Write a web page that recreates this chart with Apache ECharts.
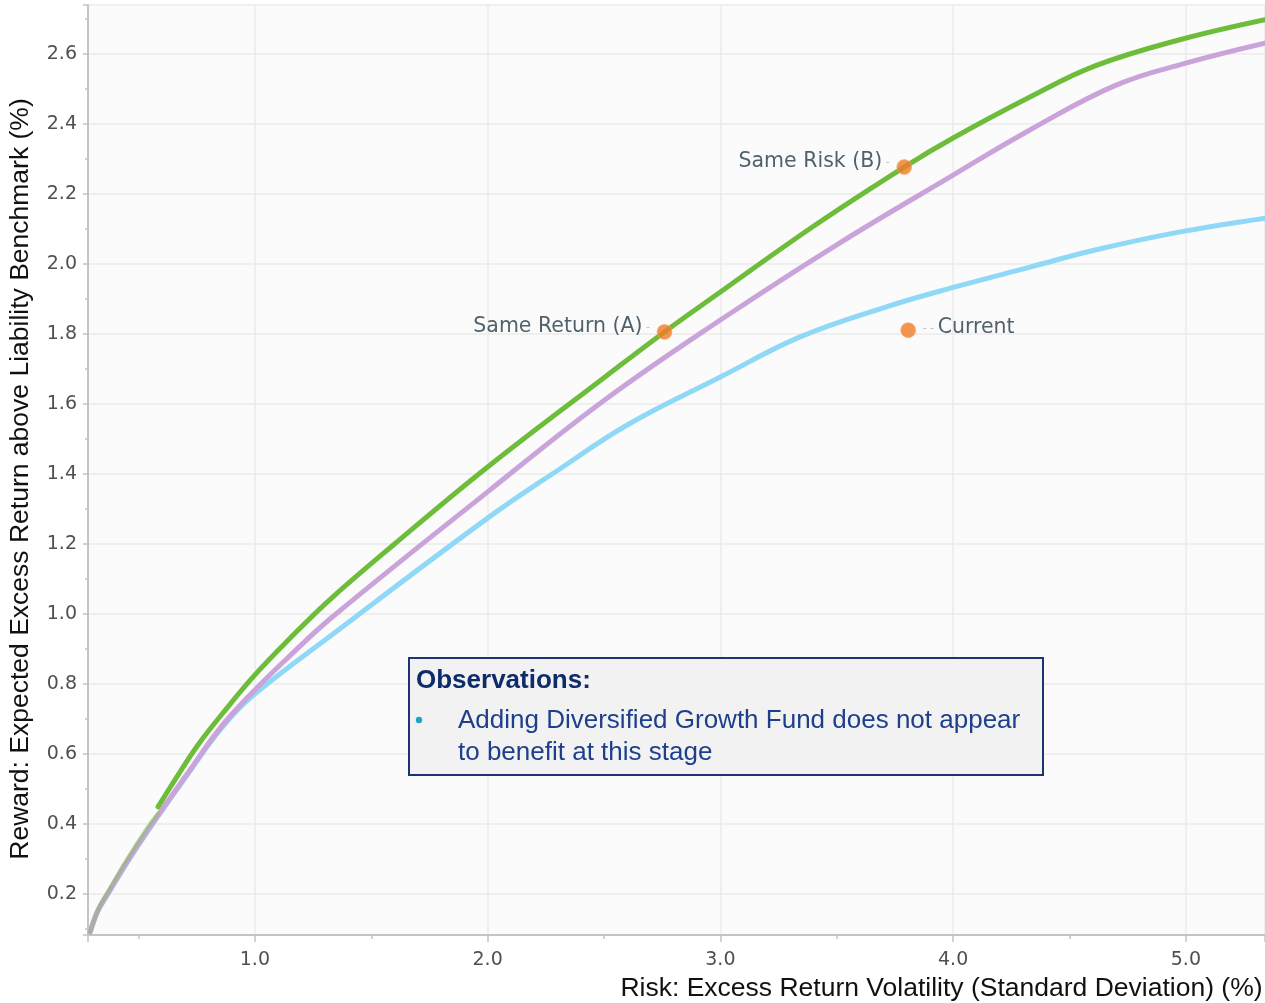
<!DOCTYPE html>
<html><head><meta charset="utf-8">
<script src="https://cdn.jsdelivr.net/npm/echarts@6/dist/echarts.min.js"></script>
<style>html,body{margin:0;padding:0;background:#fff}#c{width:1265px;height:1003px}</style>
</head><body><div id="c"></div>
<script>
// ---- data ----
const greenX = [0.584, 0.66, 0.76, 0.86, 1.0, 1.15, 1.32, 1.6, 2.0, 2.5, 2.76, 3.0, 3.4, 3.79, 4.0, 4.33, 4.61, 4.97, 5.34];
const greenY = [0.449, 0.53, 0.63, 0.715, 0.826, 0.93, 1.04, 1.2, 1.42, 1.675, 1.806, 1.92, 2.108, 2.277, 2.36, 2.477, 2.566, 2.64, 2.698];

const greenLeadX = [0.292, 0.33, 0.37, 0.455, 0.54, 0.584];
const greenLeadY = [0.092, 0.16, 0.208, 0.304, 0.392, 0.43];

const purpleX = [0.292, 0.326, 0.369, 0.455, 0.54, 0.712, 0.854, 1.0, 1.14, 1.33, 2.0, 2.5, 3.0, 3.5, 4.0, 4.33, 4.7, 5.0, 5.34];
const purpleY = [0.091, 0.154, 0.203, 0.297, 0.383, 0.546, 0.677, 0.783, 0.874, 0.99, 1.349, 1.61, 1.84, 2.055, 2.254, 2.383, 2.511, 2.574, 2.631];

const blueX = [0.292, 0.326, 0.369, 0.455, 0.54, 0.712, 0.854, 0.99, 1.33, 2.0, 2.3, 2.6, 3.0, 3.34, 3.7, 4.0, 4.33, 4.61, 4.97, 5.34];
const blueY = [0.091, 0.152, 0.2, 0.294, 0.38, 0.543, 0.672, 0.766, 0.94, 1.274, 1.41, 1.54, 1.677, 1.791, 1.875, 1.933, 1.991, 2.04, 2.091, 2.131];

const pointNames = ['Same Return (A)', 'Same Risk (B)', 'Current'];
const pointX = [2.76, 3.79, 3.807];
const pointY = [1.806, 2.277, 1.811];

const xAxisName = 'Risk: Excess Return Volatility (Standard Deviation) (%)';
const yAxisName = 'Reward: Expected Excess Return above Liability Benchmark (%)';
const noteTitle = 'Observations:';
const noteLines = ['Adding Diversified Growth Fund does not appear', 'to benefit at this stage'];

// ---- build ----
const zip = (xs, ys) => xs.map((x, i) => [x, ys[i]]);
const labelSide = { 'Same Return (A)': 'left', 'Same Risk (B)': 'left', 'Current': 'right' };

const chart = echarts.init(document.getElementById('c'), null, { renderer: 'canvas' });

const tickFont = { fontFamily: 'DejaVu Sans', fontSize: 19, color: '#505050' };
const nameFont = { fontFamily: 'Liberation Sans', fontSize: 26.5, color: '#111' };

const lineBase = (color, width, opacity) => ({
  type: 'line', smooth: 0.4, symbol: 'none', silent: true,
  lineStyle: { color: color, width: width, opacity: opacity, cap: 'round' }
});

chart.setOption({
  animation: false,
  backgroundColor: '#ffffff',
  grid: { left: 88, right: 0, top: 5, bottom: 68, containLabel: false, outerBoundsMode: 'none',
          show: true, backgroundColor: '#fbfbfb', borderWidth: 0 },
  xAxis: {
    type: 'value', min: 0.283, max: 5.34, splitNumber: 5,
    name: xAxisName, nameLocation: 'middle', nameGap: 40,
    nameTextStyle: Object.assign({ padding: [0, 0, 0, 530] }, nameFont),
    axisLine: { show: true, lineStyle: { color: '#c4c4c4', width: 2 } },
    axisTick: { show: true, length: 7, lineStyle: { color: '#c4c4c4', width: 1.5 } },
    minorTick: { show: true, splitNumber: 2, length: 4, lineStyle: { color: '#c4c4c4', width: 1.5 } },
    splitLine: { show: true, lineStyle: { color: '#ebebeb', width: 1.5 } },
    axisLabel: Object.assign({ margin: 16, showMinLabel: false, showMaxLabel: false, formatter: v => v.toFixed(1) }, tickFont)
  },
  yAxis: {
    type: 'value', min: 0.083, max: 2.74, splitNumber: 13,
    name: yAxisName, nameLocation: 'middle', nameGap: 54,
    nameTextStyle: Object.assign({ padding: [0, 18, 0, 0] }, nameFont),
    axisLine: { show: true, lineStyle: { color: '#c4c4c4', width: 2 } },
    axisTick: { show: true, length: 5, lineStyle: { color: '#c4c4c4', width: 1.5 } },
    minorTick: { show: true, splitNumber: 2, length: 3, lineStyle: { color: '#c4c4c4', width: 1.5 } },
    splitLine: { show: true, lineStyle: { color: '#ebebeb', width: 1.5 } },
    axisLabel: Object.assign({ margin: 11, showMinLabel: false, showMaxLabel: false, formatter: v => v.toFixed(1) }, tickFont)
  },
  series: [
    Object.assign(lineBase('#8fd8f6', 5, 1), { name: 'blue', data: zip(blueX, blueY), z: 2 }),
    Object.assign(lineBase('#c9a3d9', 5, 1), { name: 'purple', data: zip(purpleX, purpleY), z: 3 }),
    Object.assign(lineBase('#7cc04e', 4, 0.45), { name: 'greenLead', data: zip(greenLeadX, greenLeadY), z: 4 }),
    Object.assign(lineBase('#6dbd3b', 5, 1), { name: 'green', data: zip(greenX, greenY), z: 5 }),
    {
      type: 'scatter', name: 'points', z: 10, silent: true,
      symbol: 'circle', symbolSize: 15,
      itemStyle: { color: '#f07c26', borderColor: 'rgba(255,170,110,0.7)', borderWidth: 1 },
      data: pointNames.map((n, i) => {
        const side = labelSide[n];
        return {
          name: n, value: [pointX[i], pointY[i]],
          label: {
            show: true, position: side, distance: 3,
            offset: side === 'left' ? [0, -5] : [0, -2],
            formatter: side === 'left' ? '{t|' + n + '}{d| - }' : '{d| - - }{t|' + n + '}',
            rich: {
              t: { fontFamily: 'DejaVu Sans', fontSize: 20.5, color: '#243c48' },
              d: { fontFamily: 'DejaVu Sans', fontSize: 11, color: '#aaaaaa' }
            }
          }
        };
      })
    }
  ],
  graphic: [
    {
      type: 'group', left: 408, top: 657, z: 100,
      children: [
        { type: 'rect', z: 100, shape: { x: 0, y: 0, width: 634, height: 117 },
          style: { fill: '#f2f2f2', stroke: '#1c3572', lineWidth: 2 } },
        { type: 'text', z: 101, x: 7, y: 23,
          style: { text: noteTitle, fontFamily: 'Liberation Sans', fontWeight: 'bold', fontSize: 26, fill: '#0e2c6c', verticalAlign: 'middle' } },
        { type: 'circle', z: 101, shape: { cx: 10, cy: 62, r: 3.2 }, style: { fill: '#1aa6c8' } },
        { type: 'text', z: 101, x: 49, y: 63,
          style: { text: noteLines[0], fontFamily: 'Liberation Sans', fontSize: 26, fill: '#1d3f8c', verticalAlign: 'middle' } },
        { type: 'text', z: 101, x: 49, y: 95,
          style: { text: noteLines[1], fontFamily: 'Liberation Sans', fontSize: 26, fill: '#1d3f8c', verticalAlign: 'middle' } }
      ]
    }
  ]
});
</script>
</body></html>
